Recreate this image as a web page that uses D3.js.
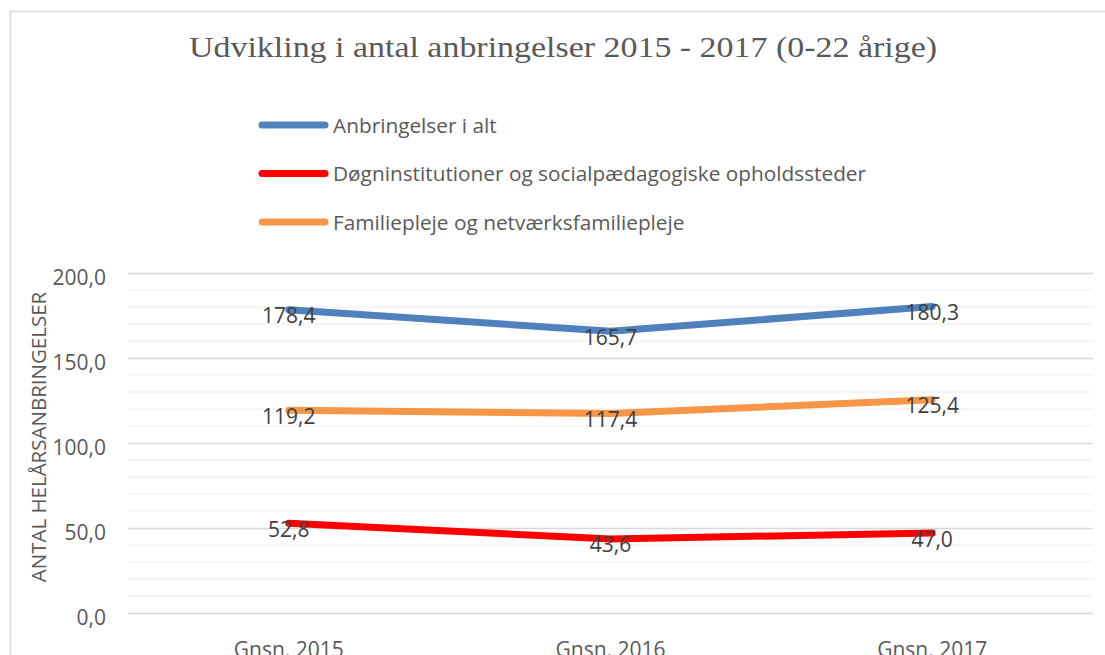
<!DOCTYPE html>
<html>
<head>
<meta charset="utf-8">
<script src="https://cdn.jsdelivr.net/npm/d3@7"></script>
<style>
    body { margin: 0; background: #fff; }
    svg { display: block; }
</style>
</head>
<body>
<svg id="chart" width="1105" height="655"></svg>
<script>
const title = "Udvikling i antal anbringelser 2015 - 2017 (0-22 årige)";
const yTitle = "ANTAL HELÅRSANBRINGELSER";
const categories = ["Gnsn. 2015", "Gnsn. 2016", "Gnsn. 2017"];
const seriesNames = [
    "Anbringelser i alt",
    "Døgninstitutioner og socialpædagogiske opholdssteder",
    "Familiepleje og netværksfamiliepleje"
];
const totalValues = [178.4, 165.7, 180.3];
const institutionValues = [52.8, 43.6, 47.0];
const familyValues = [119.2, 117.4, 125.4];
const yTicks = [0, 50, 100, 150, 200];

const series = [
    { name: seriesNames[0], values: totalValues, color: "#4F81BD" },
    { name: seriesNames[1], values: institutionValues, color: "#FF0000" },
    { name: seriesNames[2], values: familyValues, color: "#F79646" }
];

const svg = d3.select("#chart");
const margin = { top: 273, left: 128, right: 12, bottom: 42 };
const width = 1105 - margin.left - margin.right;
const height = 655 - margin.top - margin.bottom;
const fmt = v => d3.format(".1f")(v).replace(".", ",");
const font = "'Open Sans', sans-serif";

// chart frame
svg.append("rect")
    .attr("x", 10.5).attr("y", 11.5)
    .attr("width", 1120).attr("height", 700)
    .attr("fill", "#fff")
    .attr("stroke", "#d9d9d9")
    .attr("stroke-width", 1.5);

svg.append("text")
    .attr("x", 563).attr("y", 57)
    .attr("text-anchor", "middle")
    .attr("font-family", "'Liberation Serif', serif")
    .attr("font-size", 29)
    .attr("fill", "#595959")
    .attr("textLength", 748)
    .attr("lengthAdjust", "spacingAndGlyphs")
    .text(title);

const legend = svg.append("g");
series.forEach((s, i) => {
    const y = 125 + i * 48.5;
    legend.append("line")
        .attr("x1", 262).attr("x2", 325)
        .attr("y1", y).attr("y2", y)
        .attr("stroke", s.color)
        .attr("stroke-width", 7)
        .attr("stroke-linecap", "round");
    legend.append("text")
        .attr("x", 333).attr("y", y + 7.5)
        .attr("font-family", font)
        .attr("font-size", 20.8)
        .attr("fill", "#595959")
        .text(s.name);
});

const g = svg.append("g").attr("transform", `translate(${margin.left},${margin.top})`);

const x = d3.scaleBand().domain(categories).range([0, width]);
const y = d3.scaleLinear().domain([0, 200]).range([height, 0]);

// minor gridlines
g.append("g")
    .selectAll("line")
    .data(d3.range(0, 201, 10).filter(v => v % 50 !== 0))
    .join("line")
    .attr("x1", 0).attr("x2", width)
    .attr("y1", d => y(d)).attr("y2", d => y(d))
    .attr("stroke", "#f2f2f2")
    .attr("stroke-width", 1.5);

const yAxis = g.append("g")
    .call(d3.axisLeft(y).tickValues(yTicks).tickSize(-width).tickFormat(fmt));
yAxis.select(".domain").remove();
yAxis.selectAll(".tick line").attr("stroke", "#d9d9d9").attr("stroke-width", 1.5);
yAxis.selectAll(".tick text")
    .attr("x", -22)
    .attr("dy", 11)
    .attr("font-family", font)
    .attr("font-size", 21)
    .attr("fill", "#595959");

const xAxis = g.append("g")
    .attr("transform", `translate(0,${height})`)
    .call(d3.axisBottom(x).tickSize(0));
xAxis.select(".domain").remove();
xAxis.selectAll(".tick text")
    .attr("dy", 0)
    .attr("y", 44)
    .attr("font-family", font)
    .attr("font-size", 21)
    .attr("fill", "#595959");

svg.append("text")
    .attr("transform", `translate(46,${437}) rotate(-90)`)
    .attr("text-anchor", "middle")
    .attr("font-family", font)
    .attr("font-size", 20.5)
    .attr("fill", "#595959")
    .text(yTitle);

const line = d3.line()
    .x((d, i) => x(categories[i]) + x.bandwidth() / 2)
    .y(d => y(d));

series.forEach(s => {
    g.append("path")
        .datum(s.values)
        .attr("fill", "none")
        .attr("stroke", s.color)
        .attr("stroke-width", 7)
        .attr("stroke-linecap", "round")
        .attr("stroke-linejoin", "round")
        .attr("d", line);
});

series.forEach(s => {
    g.selectAll(null)
        .data(s.values)
        .join("text")
        .attr("x", (d, i) => x(categories[i]) + x.bandwidth() / 2)
        .attr("y", d => y(d) + 13.5)
        .attr("text-anchor", "middle")
        .attr("font-family", font)
        .attr("font-size", 21)
        .attr("fill", "#404040")
        .text(d => fmt(d));
});
</script>
</body>
</html>
